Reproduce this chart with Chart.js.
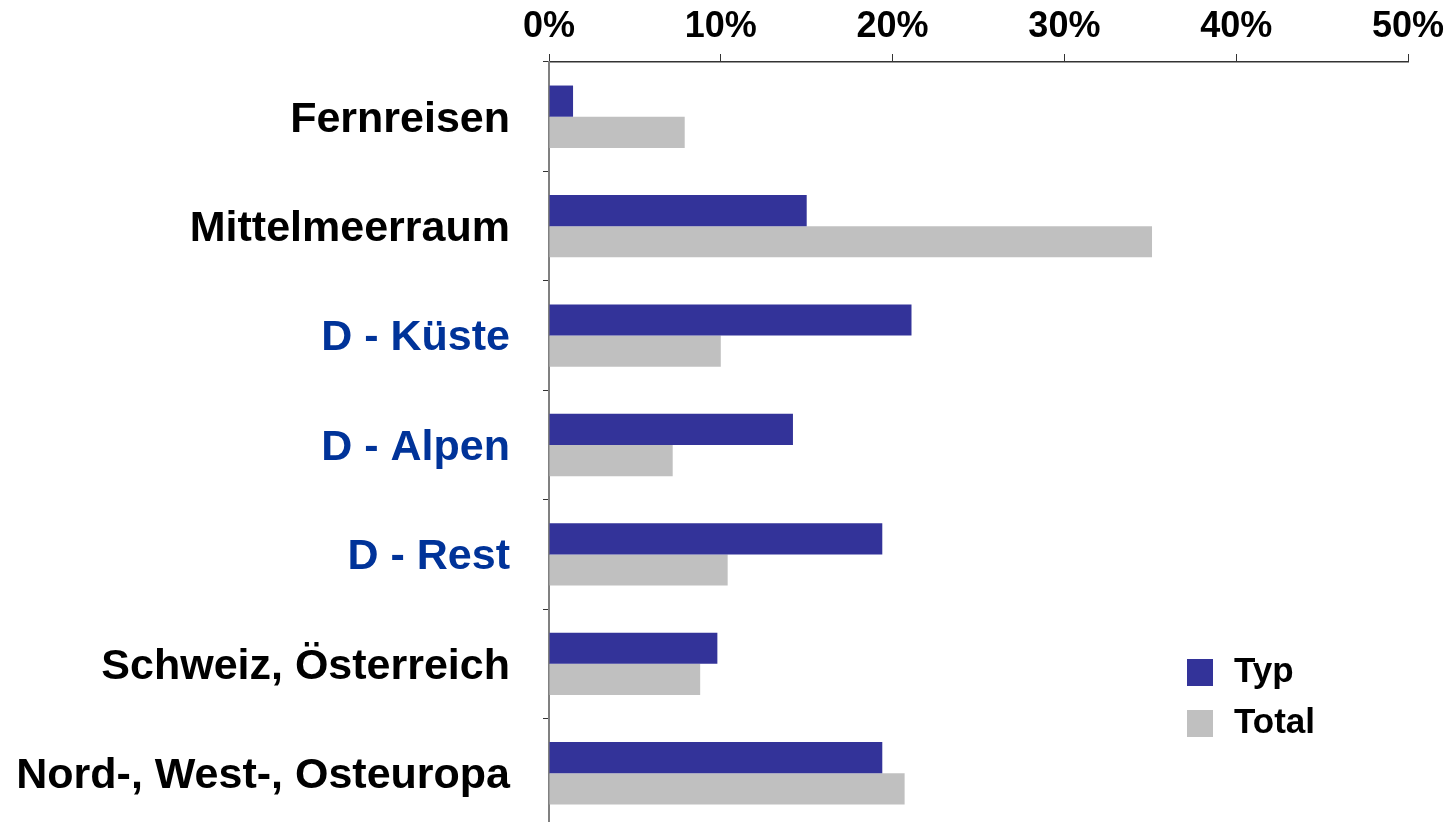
<!DOCTYPE html>
<html>
<head>
<meta charset="utf-8">
<script src="https://cdn.jsdelivr.net/npm/chart.js@4"></script>
<style>
  html, body { margin: 0; padding: 0; background: #fff; overflow: hidden; }
  #wrap { width: 1455px; height: 828px; position: relative; }
</style>
</head>
<body>
<div id="wrap"><canvas id="reisenChart"></canvas></div>
<script>
/*
 * Reiseziele: Typ vs. Total
 */

const regionen = ["Fernreisen", "Mittelmeerraum", "D - Küste", "D - Alpen", "D - Rest", "Schweiz, Österreich", "Nord-, West-, Osteuropa"]
const typWerte = [1.4, 15.0, 21.1, 14.2, 19.4, 9.8, 19.4]
const totalWerte = [7.9, 35.1, 10.0, 7.2, 10.4, 8.8, 20.7]
const labelFarben = ["#000000", "#000000", "#003399", "#003399", "#003399", "#000000", "#000000"]
const achsenTicks = [0, 10, 20, 30, 40, 50]

const fontFamily = "'Liberation Sans', Arial, sans-serif"

// legend drawn inside the plot, bottom right
let eigeneLegende = {
    id: "eigeneLegende",
    afterDraw(chart) {
        let ctx = chart.ctx
        ctx.save()
        ctx.font = "bold 35px " + fontFamily
        ctx.textBaseline = "middle"
        ctx.textAlign = "left"
        chart.data.datasets.forEach((ds, i) => {
            let y = 659 + i * 51
            ctx.fillStyle = ds.backgroundColor
            ctx.fillRect(1187, y, 26, 27)
            ctx.fillStyle = "#000"
            ctx.fillText(ds.label, 1234, y + 13)
        })
        ctx.restore()
    }
}

let reisenConfig = {
    type: "bar",
    data: {
        labels: regionen,
        datasets: [
            { label: "Typ", data: typWerte, backgroundColor: "#333399" },
            { label: "Total", data: totalWerte, backgroundColor: "#C0C0C0" }
        ]
    },
    options: {
        indexAxis: "y",
        responsive: false,
        animation: false,
        layout: { padding: { left: 0, right: 47, top: 0, bottom: 0 } },
        datasets: { bar: { categoryPercentage: 0.57, barPercentage: 1.0 } },
        plugins: {
            legend: { display: false },
            tooltip: { enabled: false }
        },
        scales: {
            x: {
                position: "top",
                min: 0,
                max: 50,
                afterFit: s => { s.height = 62 },
                afterBuildTicks: s => { s.ticks = achsenTicks.map(v => ({ value: v })) },
                ticks: {
                    callback: v => v + "%",
                    color: "#000",
                    font: { family: fontFamily, size: 36, weight: "bold" },
                    padding: 5,
                    maxRotation: 0
                },
                grid: { drawOnChartArea: false, drawTicks: true, tickLength: 8, color: "#333" },
                border: { color: "#333", width: 1.5 }
            },
            y: {
                afterFit: s => {
                    s.width = 549
                    s.paddingTop = 0
                    s.paddingBottom = 0
                },
                ticks: {
                    color: ctx => labelFarben[ctx.index],
                    font: { family: fontFamily, size: 43, weight: "bold" },
                    padding: 33,
                    labelOffset: 3
                },
                grid: { drawOnChartArea: false, drawTicks: true, tickLength: 6, color: "#333", offset: true },
                border: { color: "#808080", width: 2 }
            }
        }
    },
    plugins: [eigeneLegende]
}

var reisenCanvas = document.getElementById("reisenChart")
reisenCanvas.width = 1455
reisenCanvas.height = 828

var reisenChart = new Chart(reisenCanvas, reisenConfig)
</script>
</body>
</html>
